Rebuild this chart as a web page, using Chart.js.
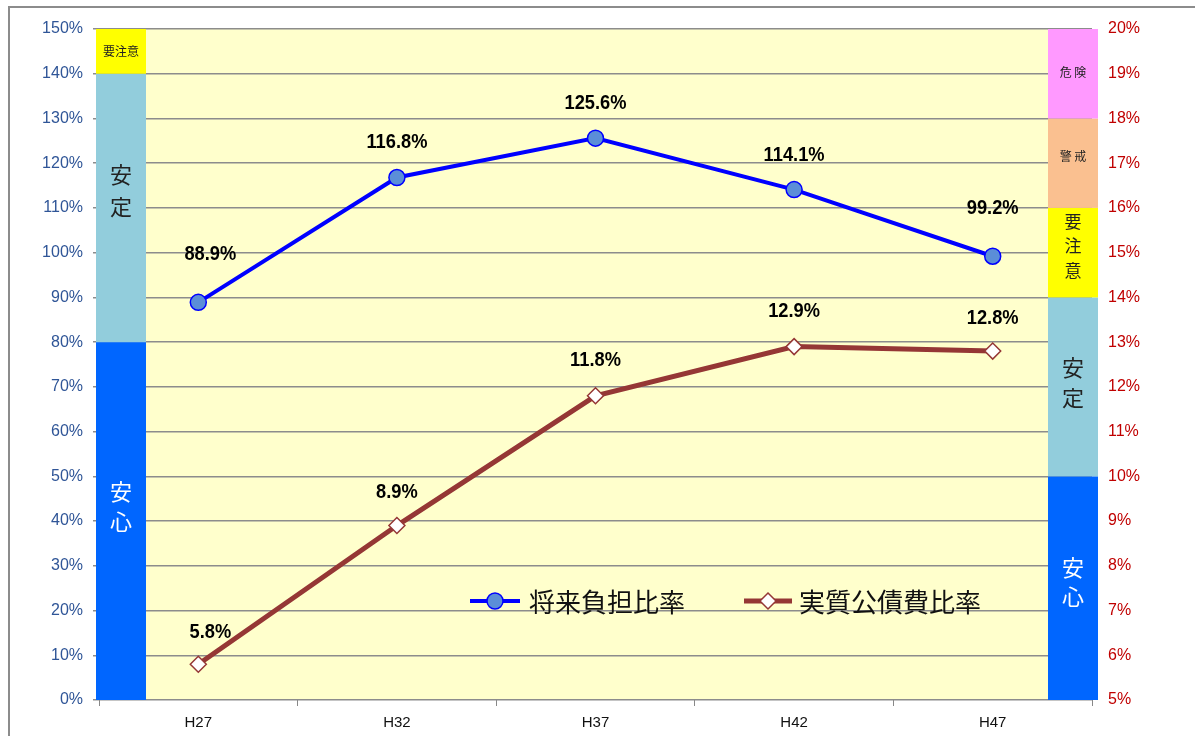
<!DOCTYPE html>
<html lang="ja">
<head>
  <meta charset="UTF-8" />
  <title>将来負担比率・実質公債費比率</title>
  <script src="https://cdn.jsdelivr.net/npm/chart.js"></script>
  <style>
    * { box-sizing: border-box; margin: 0; padding: 0; }
    html, body { width: 1195px; height: 736px; background: #fff; overflow: hidden; }
    .frame {
      position: absolute; left: 8px; top: 6px; width: 1300px; height: 800px;
      border: 2px solid #8c8c8c;
    }
    #chart { position: absolute; left: 0; top: 0; }
  </style>
</head>
<body>
  <div class="frame"></div>
  <canvas id="chart" width="1195" height="736"></canvas>

  <script>
    // data
    const years = ['H27', 'H32', 'H37', 'H42', 'H47'];
    const futureBurden = [88.9, 116.8, 125.6, 114.1, 99.2];   // 将来負担比率 (left axis)
    const debtService = [5.8, 8.9, 11.8, 12.9, 12.8];         // 実質公債費比率 (right axis)

    // colour bands on the two side bars: [from, to, colour]
    const leftBands = [
      [0, 80, '#0066ff'],
      [80, 140, '#92cddc'],
      [140, 150, '#ffff00']
    ];
    const rightBands = [
      [5, 10, '#0066ff'],
      [10, 14, '#92cddc'],
      [14, 16, '#ffff00'],
      [16, 18, '#fac090'],
      [18, 20, '#ff99ff']
    ];

    const CJK = '"Noto Sans CJK JP", sans-serif';
    const BLUE = '#0000ff';
    const RED = '#953735';

    // label placement (pixels above the point, and sideways nudge)
    const blueLift = [48, 35, 35, 34, 48];
    const redLift = [32, 33, 36, 35, 33];
    const nudge = [12, 0, 0, 0, 0];

    // band text: where each char sits, in axis units
    const bandText = {
      left: [
        { chars: ['要注意'], at: [144.9], size: 12, color: '#222' },
        { chars: ['安', '定'], at: [117.4, 110.4], size: 22, color: '#222' },
        { chars: ['安', '心'], at: [46.5, 39.8], size: 22, color: '#fff' }
      ],
      right: [
        { chars: ['危 険'], at: [19.02], size: 12, color: '#222' },
        { chars: ['警 戒'], at: [17.14], size: 12, color: '#222' },
        { chars: ['要', '注', '意'], at: [15.69, 15.15, 14.61], size: 17, color: '#222' },
        { chars: ['安', '定'], at: [12.42, 11.75], size: 22, color: '#222' },
        { chars: ['安', '心'], at: [7.97, 7.30], size: 22, color: '#fff' }
      ]
    };

    const bandsPlugin = {
      id: 'bands',
      beforeDraw(chart) {
        const { ctx, chartArea: a } = chart;
        ctx.save();
        ctx.fillStyle = '#ffffcc';
        ctx.fillRect(a.left + 46, a.top, a.right - a.left - 46 - 44, a.bottom - a.top);
        ctx.restore();
      },
      beforeDatasetsDraw(chart) {
        const { ctx, chartArea: a, scales } = chart;
        const yl = scales.y, yr = scales.y1;
        ctx.save();
        // left bar
        leftBands.forEach(b => {
          const t = yl.getPixelForValue(b[1]), btm = yl.getPixelForValue(b[0]);
          ctx.fillStyle = b[2];
          ctx.fillRect(a.left - 3, t, 50, btm - t);
        });
        // right bar
        rightBands.forEach(b => {
          const t = yr.getPixelForValue(b[1]), btm = yr.getPixelForValue(b[0]);
          ctx.fillStyle = b[2];
          ctx.fillRect(a.right - 44, t, 50, btm - t);
        });
        ctx.textAlign = 'center';
        ctx.textBaseline = 'middle';
        bandText.left.forEach(g => {
          ctx.font = g.size + 'px ' + CJK;
          ctx.fillStyle = g.color;
          g.chars.forEach((c, i) => ctx.fillText(c, a.left + 22, yl.getPixelForValue(g.at[i])));
        });
        bandText.right.forEach(g => {
          ctx.font = g.size + 'px ' + CJK;
          ctx.fillStyle = g.color;
          g.chars.forEach((c, i) => ctx.fillText(c, a.right - 19, yr.getPixelForValue(g.at[i])));
        });
        ctx.restore();
      },
      afterDatasetsDraw(chart) {
        const { ctx } = chart;
        ctx.save();
        ctx.font = 'bold 21px "Liberation Sans", Arial, sans-serif';
        ctx.fillStyle = '#000';
        ctx.textAlign = 'center';
        ctx.textBaseline = 'middle';
        // slightly condensed, like the original labels
        const put = (txt, x, y) => {
          ctx.save();
          ctx.translate(x, y);
          ctx.scale(0.87, 1);
          ctx.fillText(txt, 0, 0);
          ctx.restore();
        };
        chart.getDatasetMeta(0).data.forEach((p, i) => {
          put(futureBurden[i].toFixed(1) + '%', p.x + nudge[i], p.y - blueLift[i]);
        });
        chart.getDatasetMeta(1).data.forEach((p, i) => {
          put(debtService[i].toFixed(1) + '%', p.x + nudge[i], p.y - redLift[i]);
        });

        // legend inside the plot
        const ly = 601;
        ctx.lineWidth = 4;
        ctx.strokeStyle = BLUE;
        ctx.beginPath(); ctx.moveTo(470, ly); ctx.lineTo(520, ly); ctx.stroke();
        ctx.beginPath(); ctx.arc(495, ly, 8, 0, Math.PI * 2);
        ctx.fillStyle = '#5b8ed8'; ctx.fill();
        ctx.lineWidth = 1.5; ctx.stroke();

        ctx.lineWidth = 5;
        ctx.strokeStyle = RED;
        ctx.beginPath(); ctx.moveTo(744, ly); ctx.lineTo(792, ly); ctx.stroke();
        ctx.beginPath();
        ctx.moveTo(768, ly - 8); ctx.lineTo(776, ly); ctx.lineTo(768, ly + 8); ctx.lineTo(760, ly);
        ctx.closePath();
        ctx.fillStyle = '#fff'; ctx.fill();
        ctx.lineWidth = 1.5; ctx.stroke();

        ctx.font = '26px ' + CJK;
        ctx.fillStyle = '#111';
        ctx.textAlign = 'left';
        ctx.fillText('将来負担比率', 529, ly + 1);
        ctx.fillText('実質公債費比率', 799, ly + 1);
        ctx.restore();
      }
    };

    new Chart(document.getElementById('chart'), {
      type: 'line',
      data: {
        labels: years,
        datasets: [
          {
            label: '将来負担比率',
            data: futureBurden,
            yAxisID: 'y',
            borderColor: BLUE,
            borderWidth: 4,
            pointRadius: 8,
            pointBackgroundColor: '#5b8ed8',
            pointBorderColor: BLUE,
            pointBorderWidth: 1.5,
            tension: 0
          },
          {
            label: '実質公債費比率',
            data: debtService,
            yAxisID: 'y1',
            borderColor: RED,
            borderWidth: 5,
            pointStyle: 'rectRot',
            pointRadius: 8,
            pointBackgroundColor: '#ffffff',
            pointBorderColor: RED,
            pointBorderWidth: 1.5,
            tension: 0
          }
        ]
      },
      options: {
        responsive: false,
        animation: false,
        layout: { padding: { top: 29, left: 0, right: 0, bottom: 0 } },
        plugins: { legend: { display: false }, tooltip: { enabled: false } },
        scales: {
          x: {
            offset: true,
            grid: { display: true, drawOnChartArea: false, offset: true, tickLength: 6, color: '#888' },
            border: { display: false },
            ticks: { color: '#111', font: { family: '"Liberation Sans", Arial', size: 15 }, padding: 8 },
            afterFit(s) { s.height = 36; }
          },
          y: {
            position: 'left',
            min: 0, max: 150,
            grid: { color: '#8c8c8c', lineWidth: 1.5, tickLength: 6 },
            border: { display: false },
            ticks: {
              stepSize: 10,
              color: '#2f5597',
              font: { family: '"Liberation Sans", Arial', size: 16 },
              padding: 10,
              callback: v => v + '%'
            },
            afterFit(s) { s.width = 99; }
          },
          y1: {
            position: 'right',
            min: 5, max: 20,
            grid: { drawOnChartArea: false, drawTicks: false },
            border: { display: false },
            ticks: {
              stepSize: 1,
              color: '#c00000',
              font: { family: '"Liberation Sans", Arial', size: 16 },
              padding: 16,
              callback: v => v + '%'
            },
            afterFit(s) { s.width = 103; }
          }
        }
      },
      plugins: [bandsPlugin]
    });
  </script>
</body>
</html>
